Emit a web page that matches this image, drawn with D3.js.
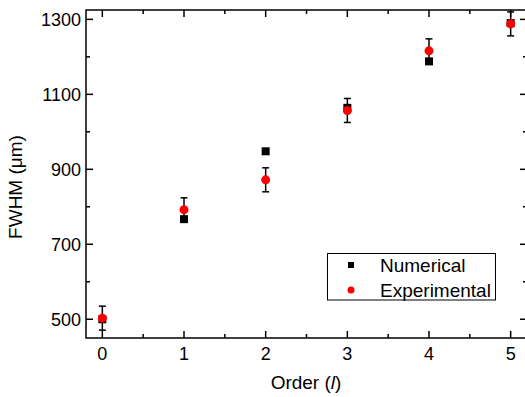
<!DOCTYPE html>
<html>
<head>
<meta charset="utf-8">
<script src="https://cdn.jsdelivr.net/npm/d3@7"></script>
<style>
  body { margin: 0; background: #fff; }
  svg { display: block; }
  text { font-family: "Liberation Sans", Arial, sans-serif; fill: #000; }
</style>
</head>
<body>
<div id="chart"></div>
<script>
// data
const orders = [0, 1, 2, 3, 4, 5];
const numerical = [500, 767, 948, 1064, 1188, 1290];
const experimental = [503, 792, 872, 1057, 1216, 1288];
const expError = [32, 32, 32, 32, 32, 32];
const xTicks = [0, 1, 2, 3, 4, 5];
const yTicks = [500, 700, 900, 1100, 1300];

const width = 525, height = 397;
const margin = { left: 86, top: 10, right: -2, bottom: 59 };

const svg = d3.select('#chart').append('svg')
  .attr('width', width)
  .attr('height', height);

const x = d3.scaleLinear().domain([-0.2, 5.2]).range([margin.left, width - margin.right]);
const y = d3.scaleLinear().domain([450, 1325]).range([height - margin.bottom, margin.top]);

const x0 = x.range()[0], x1 = x.range()[1];
const y0 = y.range()[0], y1 = y.range()[1];

// ticks (inward) on all four sides
const xMinor = d3.range(0, 5.01, 0.5).filter(v => !xTicks.includes(v));
const yMinor = d3.range(600, 1300, 200);
const tg = svg.append('g').attr('stroke', '#000').attr('stroke-width', 1.5);
xTicks.forEach(v => {
  tg.append('line').attr('x1', x(v)).attr('x2', x(v)).attr('y1', y0).attr('y2', y0 - 7);
  tg.append('line').attr('x1', x(v)).attr('x2', x(v)).attr('y1', y1).attr('y2', y1 + 7);
});
xMinor.forEach(v => {
  tg.append('line').attr('x1', x(v)).attr('x2', x(v)).attr('y1', y0).attr('y2', y0 - 4);
  tg.append('line').attr('x1', x(v)).attr('x2', x(v)).attr('y1', y1).attr('y2', y1 + 4);
});
yTicks.forEach(v => {
  tg.append('line').attr('x1', x0).attr('x2', x0 + 7).attr('y1', y(v)).attr('y2', y(v));
  tg.append('line').attr('x1', x1).attr('x2', x1 - 7).attr('y1', y(v)).attr('y2', y(v));
});
yMinor.forEach(v => {
  tg.append('line').attr('x1', x0).attr('x2', x0 + 4).attr('y1', y(v)).attr('y2', y(v));
  tg.append('line').attr('x1', x1).attr('x2', x1 - 4).attr('y1', y(v)).attr('y2', y(v));
});

// frame
svg.append('rect')
  .attr('x', x0).attr('y', y1)
  .attr('width', x1 - x0).attr('height', y0 - y1)
  .attr('fill', 'none').attr('stroke', '#000').attr('stroke-width', 1.5);

// tick labels
svg.append('g').selectAll('text').data(xTicks).enter().append('text')
  .attr('x', d => x(d)).attr('y', y0 + 21.5)
  .attr('text-anchor', 'middle')
  .style('font-size', '18px')
  .text(d => d);

svg.append('g').selectAll('text').data(yTicks).enter().append('text')
  .attr('x', x0 - 5).attr('y', d => y(d) + 6.5)
  .attr('text-anchor', 'end')
  .style('font-size', '18px')
  .text(d => d);

// axis titles
const xt = svg.append('text')
  .attr('x', (x(0) + x(5)) / 2 - 0.5).attr('y', 389)
  .attr('text-anchor', 'middle')
  .style('font-size', '19px');
xt.append('tspan').text('Order (');
xt.append('tspan').style('font-style', 'italic').text('l');
xt.append('tspan').text(')');

svg.append('text')
  .attr('transform', 'translate(22,187) rotate(-90)')
  .attr('text-anchor', 'middle')
  .style('font-size', '19px')
  .text('FWHM (\u03bcm)');

// error bars
const eb = svg.append('g').attr('stroke', '#000').attr('stroke-width', 1.5);
orders.forEach((o, i) => {
  const top = y(experimental[i] + expError[i]);
  const bot = y(experimental[i] - expError[i]);
  eb.append('line').attr('x1', x(o)).attr('x2', x(o)).attr('y1', top).attr('y2', bot);
  eb.append('line').attr('x1', x(o) - 3.5).attr('x2', x(o) + 3.5).attr('y1', top).attr('y2', top);
  eb.append('line').attr('x1', x(o) - 3.5).attr('x2', x(o) + 3.5).attr('y1', bot).attr('y2', bot);
});

// numerical squares
svg.append('g').selectAll('rect').data(orders).enter().append('rect')
  .attr('x', d => x(d) - 4).attr('y', (d, i) => y(numerical[i]) - 4)
  .attr('width', 8).attr('height', 8)
  .attr('fill', '#000');

// experimental circles
svg.append('g').selectAll('circle').data(orders).enter().append('circle')
  .attr('cx', d => x(d)).attr('cy', (d, i) => y(experimental[i]))
  .attr('r', 4.5)
  .attr('fill', '#ff0000');

// legend
const lg = svg.append('g');
lg.append('rect')
  .attr('x', 327.5).attr('y', 253.5).attr('width', 168).attr('height', 46.5)
  .attr('fill', '#fff').attr('stroke', '#000').attr('stroke-width', 1);
lg.append('rect').attr('x', 348).attr('y', 262).attr('width', 6).attr('height', 6).attr('fill', '#000');
lg.append('circle').attr('cx', 351).attr('cy', 290).attr('r', 3.5).attr('fill', '#ff0000');
lg.append('text').attr('x', 380).attr('y', 272).style('font-size', '19px').text('Numerical');
lg.append('text').attr('x', 380).attr('y', 297).style('font-size', '19px').text('Experimental');
</script>
</body>
</html>
